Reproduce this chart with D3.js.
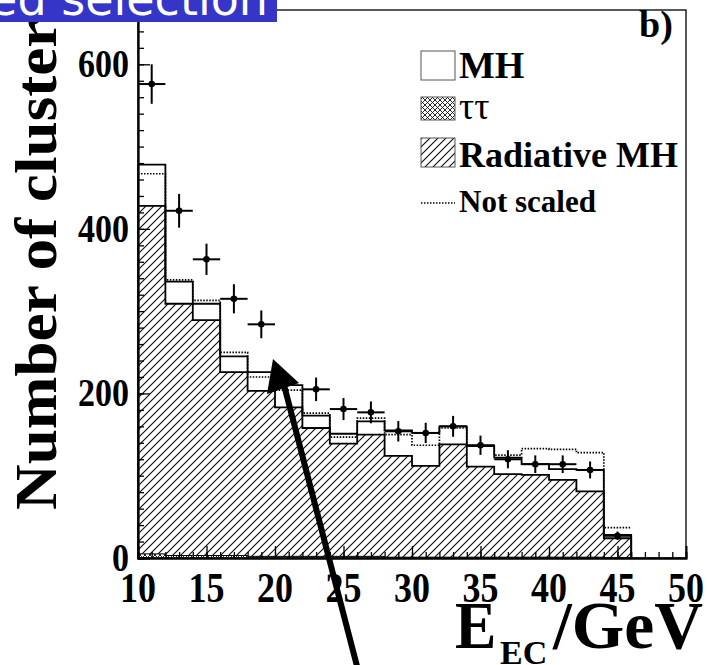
<!DOCTYPE html>
<html><head><meta charset="utf-8">
<script src="https://cdn.jsdelivr.net/npm/d3@7"></script>
<style>body{margin:0;background:#fff}svg{display:block}</style>
</head><body>
<script>
// ---- data ----
const binEdges = [10,12,14,16,18,20,22,24,26,28,30,32,34,36,38,40,42,44,46];
const mhTotal   = [478,336,309,245,226,210,173,151,166,155,152,160,136,122,114,108,107,28];
const notScaled = [467,338,313,250,220,204,176,147,170,150,137,158,137,125,133,132,128,37];
const radMH     = [428,309,289,226,203,183,158,139,150,124,112,138,111,102,101,95,81,24];
const tautau    = [5,3,3,3,2,2,2,2,2,1,1,1,1,1,1,1,1,0];
const dataE   = [11,13,15,17,19,21,23,25,27,29,31,33,35,37,39,41,43,45];
const dataN   = [576,422,363,315,284,null,205,181,177,154,152,160,137,120,114,114,107,27];
const dataErr = [24,20.5,19,17.7,16.9,null,14.3,13.4,13.3,12.4,12.3,12.7,11.7,11,10.7,10.7,10.3,5.2];
const xTickLabels = [10,15,20,25,30,35,40,45,50];
const yTickLabels = [0,200,400,600];
const legendItems = ["MH","\u03c4\u03c4","Radiative MH","Not scaled"];

const W = 707, H = 665;
const svg = d3.select("body").append("svg").attr("width", W).attr("height", H);
const defs = svg.append("defs");
const hatch = defs.append("pattern").attr("id","hatch").attr("patternUnits","userSpaceOnUse")
  .attr("width",8).attr("height",8);
hatch.append("path").attr("d","M-2,2 l4,-4 M0,8 l8,-8 M6,10 l4,-4")
  .attr("stroke","#111").attr("stroke-width",1.2).attr("fill","none");
const cross = defs.append("pattern").attr("id","cross").attr("patternUnits","userSpaceOnUse")
  .attr("width",5).attr("height",5);
cross.append("rect").attr("width",5).attr("height",5).attr("fill","#fff");
cross.append("path").attr("d","M0,0 L5,5 M0,5 L5,0").attr("stroke","#111").attr("stroke-width",0.9);

const serif = "'Liberation Serif','Times New Roman',Times,serif";
const x = d3.scaleLinear().domain([10,50]).range([138,686]);
const y = d3.scaleLinear().domain([0,666]).range([558,10]);

function steps(vals){
  const pts = [[binEdges[0],0]];
  vals.forEach((v,i)=>{ pts.push([binEdges[i],v]); pts.push([binEdges[i+1],v]); });
  pts.push([binEdges[binEdges.length-1],0]);
  return pts;
}
const line = d3.line().x(d=>x(d[0])).y(d=>y(d[1]));
const area = d3.area().x(d=>x(d[0])).y0(y(0)).y1(d=>y(d[1]));

// MH (white)
svg.append("path").attr("d", area(steps(mhTotal))).attr("fill","#fff");
svg.append("path").attr("d", line(steps(mhTotal))).attr("fill","none").attr("stroke","#000").attr("stroke-width",1.8);
// Radiative MH (hatched)
svg.append("path").attr("d", area(steps(radMH))).attr("fill","url(#hatch)");
svg.append("path").attr("d", line(steps(radMH))).attr("fill","none").attr("stroke","#000").attr("stroke-width",1.8);
// tautau
svg.append("path").attr("d", area(steps(tautau))).attr("fill","url(#cross)");
svg.append("path").attr("d", line(steps(tautau))).attr("fill","none").attr("stroke","#000").attr("stroke-width",1);
// Not scaled (dotted)
const nsPts = [];
notScaled.forEach((v,i)=>{ nsPts.push([binEdges[i],v]); nsPts.push([binEdges[i+1],v]); });
svg.append("path").attr("d", line(nsPts)).attr("fill","none").attr("stroke","#000")
  .attr("stroke-width",1.7).attr("stroke-dasharray","1.5,1.5");

// data points
const pts = dataE.map((e,i)=>({e, n:dataN[i], s:dataErr[i]})).filter(d=>d.n!==null);
const g = svg.append("g").attr("stroke","#000").attr("stroke-width",2);
g.selectAll(".v").data(pts).join("line").attr("x1",d=>x(d.e)).attr("x2",d=>x(d.e))
  .attr("y1",d=>y(d.n-d.s)).attr("y2",d=>y(d.n+d.s));
g.selectAll(".h").data(pts).join("line").attr("x1",d=>x(d.e-1)).attr("x2",d=>x(d.e+1))
  .attr("y1",d=>y(d.n)).attr("y2",d=>y(d.n));
svg.selectAll(".pt").data(pts).join("circle").attr("cx",d=>x(d.e)).attr("cy",d=>y(d.n)).attr("r",3.3).attr("fill","#000");

// frame
svg.append("rect").attr("x",x(10)).attr("y",y(666)).attr("width",x(50)-x(10)).attr("height",y(0)-y(666))
  .attr("fill","none").attr("stroke","#222").attr("stroke-width",1.5);

// axes with inward ticks
svg.append("g").attr("transform",`translate(${x(10)},0)`)
  .call(d3.axisRight(y).tickValues(d3.range(0,661,20)).tickSize(6).tickFormat(""));
svg.append("g").attr("transform",`translate(${x(10)},0)`)
  .call(d3.axisRight(y).tickValues(yTickLabels).tickSize(12).tickFormat(""));
svg.append("g").attr("transform",`translate(0,${y(0)})`)
  .call(d3.axisTop(x).tickValues(d3.range(10,51,1)).tickSize(6).tickFormat(""));
svg.append("g").attr("transform",`translate(0,${y(0)})`)
  .call(d3.axisTop(x).tickValues(xTickLabels).tickSize(12).tickFormat(""));
svg.selectAll(".domain").attr("stroke","#000").attr("stroke-width",1.8);
svg.selectAll(".tick line").attr("stroke","#000").attr("stroke-width",1.3);

// tick labels (slightly tall glyphs as in the reference)
svg.selectAll(".xl").data(xTickLabels).join("text")
  .attr("transform",d=>`translate(${x(d)},602) scale(1,1.2)`)
  .attr("text-anchor","middle").attr("font-family",serif).attr("font-weight","bold").attr("font-size",36).text(d=>d);
svg.selectAll(".yl").data(yTickLabels).join("text")
  .attr("transform",d=>`translate(129,${y(d)+13}) scale(1,1.2)`)
  .attr("text-anchor","end").attr("font-family",serif).attr("font-weight","bold").attr("font-size",34).text(d=>d);

// axis titles
svg.append("text").attr("transform","translate(56,510) rotate(-90)")
  .attr("font-family",serif).attr("font-weight","bold").attr("font-size",59)
  .attr("textLength",515).attr("lengthAdjust","spacingAndGlyphs").text("Number of clusters");
const xt = svg.append("g").attr("font-family",serif).attr("font-weight","bold");
xt.append("text").attr("transform","translate(455,648) scale(1,1.08)").attr("font-size",62).text("E");
xt.append("text").attr("transform","translate(500,664)").attr("font-size",34).text("EC");
xt.append("text").attr("transform","translate(553,648) scale(1,1.08)").attr("font-size",62)
  .attr("textLength",150).attr("lengthAdjust","spacingAndGlyphs").text("/GeV");

// legend
const lg = svg.append("g");
lg.append("rect").attr("x",421).attr("y",51).attr("width",34).attr("height",29).attr("fill","#fff").attr("stroke","#555").attr("stroke-width",1);
lg.append("rect").attr("x",421).attr("y",97).attr("width",34).attr("height",23).attr("fill","url(#cross)").attr("stroke","#555").attr("stroke-width",1);
lg.append("rect").attr("x",421).attr("y",138).attr("width",34).attr("height",29).attr("fill","url(#hatch)").attr("stroke","#555").attr("stroke-width",1);
lg.append("line").attr("x1",421).attr("x2",455).attr("y1",203).attr("y2",203).attr("stroke","#000").attr("stroke-width",1.6).attr("stroke-dasharray","1.5,1.5");
const lgY = [78,119,167,212], lgS = [38,38,36,31], lgW = ["bold","normal","bold","bold"];
lg.selectAll(".lt").data(legendItems).join("text").attr("x",459).attr("y",(d,i)=>lgY[i])
  .attr("font-family",serif).attr("font-weight",(d,i)=>lgW[i]).attr("font-size",(d,i)=>lgS[i]).text(d=>d);
svg.append("text").attr("x",639).attr("y",37).attr("font-family",serif).attr("font-weight","bold").attr("font-size",38).text("b)");

// arrow
svg.append("line").attr("x1",284).attr("y1",385).attr("x2",358).attr("y2",670).attr("stroke","#000").attr("stroke-width",6);
svg.append("path").attr("d","M273,359 L267,394 L299,383 Z").attr("fill","#000");

// banner
svg.append("rect").attr("x",0).attr("y",0).attr("width",277).attr("height",22).attr("fill","#3535c8");
svg.append("text").attr("x",268).attr("y",15).attr("text-anchor","end").attr("fill","#fff")
  .attr("font-family","'DejaVu Sans',Verdana,sans-serif").attr("font-size",46).text("sed selection");
</script>
</body></html>
